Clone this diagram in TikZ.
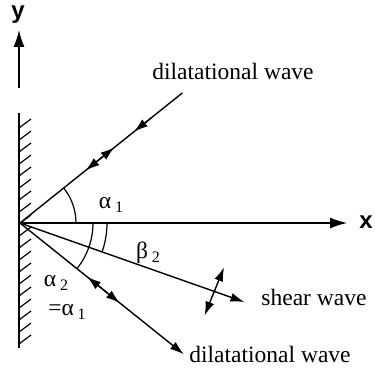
\documentclass[tikz,border=0pt]{standalone}
\usepackage{fontspec}
\setmainfont{Liberation Serif}
\newfontfamily\axisfont{Liberation Sans}
\usetikzlibrary{arrows.meta}
\newcommand{\lowidx}[1]{\,\raisebox{-0.35ex}{\fontsize{16}{16}\selectfont #1}}

\begin{document}
\begin{tikzpicture}[x=1pt, y=1pt, >={Latex[length=14pt, width=9pt]}, line width=1.4pt,
    lbl/.style={font=\fontsize{23.5}{23.5}\selectfont, inner sep=0pt},
    axlbl/.style={font=\axisfont\bfseries\fontsize{24}{24}\selectfont, inner sep=0pt},
    axarrow/.style={-{Latex[length=17pt, width=11pt]}}]
    \useasboundingbox (-20,-147) rectangle (355,223);
    \coordinate (O) at (0,0);

    % wall with hatching
    \coordinate (walltop) at (-1,110);
    \coordinate (wallbot) at (-1,-125);
    \draw (wallbot) -- (walltop);
    \foreach \y in {-121,-109,...,95} { \draw[line width=1.2pt] (-1,\y) -- ++(12,9); }

    % axes
    \coordinate (ytail) at (-1,135);
    \coordinate (yhead) at (-1,193);
    \coordinate (xhead) at (327,0);
    \draw[axarrow] (ytail) -- (yhead);
    \draw[axarrow] (O) -- (xhead);
    \node[axlbl] (ylab) at (-2,208) {y};
    \node[axlbl] (xlab) at (346,1) {x};

    % incident dilatational wave
    \coordinate (inc) at (38.7:208);
    \draw (inc) -- (O);
    \draw[->] (38.7:168) -- (38.7:146);
    \draw[<->] (38.7:84) -- (38.7:121);
    \node[lbl, anchor=base] (inclab) at (213,143) {dilatational wave};

    % reflected dilatational wave
    \coordinate (refl) at (-38.7:210);
    \draw[->] (O) -- (refl);
    \draw[<->] (-38.7:86) -- (-38.7:128);
    \node[lbl, anchor=base] (refllab) at (250,-139) {dilatational wave};

    % reflected shear wave
    \coordinate (shear) at (-19.4:238);
    \coordinate (smid) at (-19.4:206);
    \draw[->] (O) -- (shear);
    \draw[<->] ([shift={(248:26)}]smid) -- ([shift={(68:26)}]smid);
    \node[lbl, anchor=base] (shearlab) at (294,-82) {shear wave};

    % angles
    \draw[line width=1.2pt] (56,0) arc[start angle=0, end angle=38.7, radius=56];
    \draw[line width=1.2pt] (73,0) arc[start angle=0, end angle=-38.7, radius=73];
    \draw[line width=1.2pt] (87,0) arc[start angle=0, end angle=-19.4, radius=87];
    \node[lbl] (alpha1) at (91,18) {α\lowidx{1}};
    \node[lbl] (beta2) at (128,-30) {β\lowidx{2}};
    \node[lbl] (alpha2) at (36,-60) {α\lowidx{2}};
    \node[lbl] (alphaeq) at (47,-89) {=α\lowidx{1}};
\end{tikzpicture}
\end{document}
